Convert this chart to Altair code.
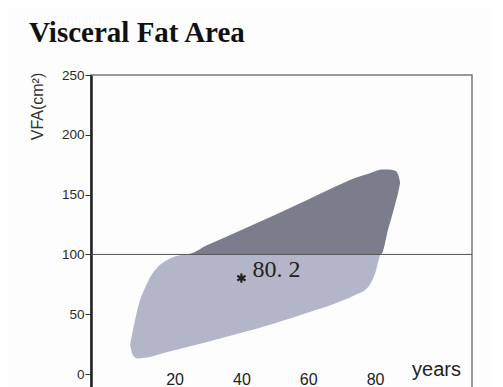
import altair as alt
import pandas as pd

# ---- data ----
ages = [6.7, 7.5, 9, 12, 17, 23.5, 30, 40, 50, 60, 68, 74, 78, 80, 81.8, 84, 86, 87, 87.5]
lower = [24.7, 16, 13, 14, 17.8, 22.5, 27, 34.5, 42.5, 51.5, 59, 66, 73, 84, 100, 122, 142, 153, 160]
upper = [24.7, 36, 55, 77, 94, 100, 108, 120.5, 133, 146, 156.5, 164, 167.5, 169.5, 171, 171, 170, 166, 160]
threshold = 100
point_age = [40]
point_vfa = [80.2]
point_label = ["80. 2"]
y_ticks = [0, 50, 100, 150, 200, 250]
x_ticks = [20, 40, 60, 80]

df = pd.DataFrame({"age": ages, "lo": lower, "hi": upper})
df["light_lo"] = df["lo"].clip(upper=threshold)
df["light_hi"] = df["hi"].clip(upper=threshold)
df["dark_lo"] = df["lo"].clip(lower=threshold)
df["dark_hi"] = df["hi"].clip(lower=threshold)

pts = pd.DataFrame({"age": point_age, "vfa": point_vfa, "label": point_label})

xs = alt.Scale(domain=[-5, 109], nice=False, zero=False)
ys = alt.Scale(domain=[-15, 250], nice=False, zero=False)

x_axis = alt.Axis(values=x_ticks, title="years", labelFont="Liberation Sans",
                  labelFontSize=16, labelColor="#222", labelPadding=-21,
                  ticks=False, tickSize=0, domain=False, grid=False,
                  titleFont="Liberation Sans", titleFontSize=20, titleFontWeight="normal",
                  titleColor="#222", titleX=345, titleY=-17, titleAlign="center",
                  titleBaseline="alphabetic")
y_axis = alt.Axis(values=y_ticks, title="VFA(cm²)", labelFont="Liberation Sans",
                  labelFontSize=13.5, labelColor="#2a2a2a", labelPadding=1,
                  tickSize=6, tickColor="#333", tickWidth=1,
                  domainColor="#222", domainWidth=2.5, grid=False,
                  titleFont="Liberation Sans", titleFontSize=16, titleFontWeight="normal",
                  titleColor="#333", titleAngle=-90, titleX=-54, titleY=31,
                  titleAlign="center", titleBaseline="middle")

base = alt.Chart(df)

light = base.mark_area(color="#b3b5c8", interpolate="monotone").encode(
    x=alt.X("age:Q", scale=xs, axis=x_axis),
    y=alt.Y("light_lo:Q", scale=ys, axis=y_axis),
    y2="light_hi:Q",
)
dark = base.mark_area(color="#7b7c8c", interpolate="monotone").encode(
    x=alt.X("age:Q", scale=xs),
    y=alt.Y("dark_lo:Q", scale=ys),
    y2="dark_hi:Q",
)
rule = alt.Chart(pd.DataFrame({"v": [threshold]})).mark_rule(color="#555", strokeWidth=1).encode(
    y=alt.Y("v:Q", scale=ys)
)
star = alt.Chart(pts).mark_point(
    shape="M0,-1L0,1M-0.87,-0.5L0.87,0.5M-0.87,0.5L0.87,-0.5",
    filled=False, stroke="#222", strokeWidth=2.2, size=90, opacity=1,
).encode(x=alt.X("age:Q", scale=xs), y=alt.Y("vfa:Q", scale=ys))
label = alt.Chart(pts).mark_text(
    font="Liberation Serif", fontSize=24, color="#222", align="left",
    baseline="middle", dx=11, dy=-8,
).encode(x=alt.X("age:Q", scale=xs), y=alt.Y("vfa:Q", scale=ys), text="label:N")

chart = alt.layer(light, dark, rule, star, label).properties(
    width=381, height=317,
    autosize=alt.AutoSizeParams(type="none"),
    padding={"left": 83, "top": 67, "right": 20, "bottom": 5},
    background="#fdfdfd",
    title=alt.TitleParams("Visceral Fat Area", anchor="start", font="Liberation Serif",
                          fontSize=29, fontWeight="bold", color="#111",
                          dx=0, dy=36, offset=33, baseline="alphabetic"),
).configure_view(stroke="#777", strokeWidth=1.5)

chart.save("out.html", embed_options={"renderer": "svg", "actions": False})
